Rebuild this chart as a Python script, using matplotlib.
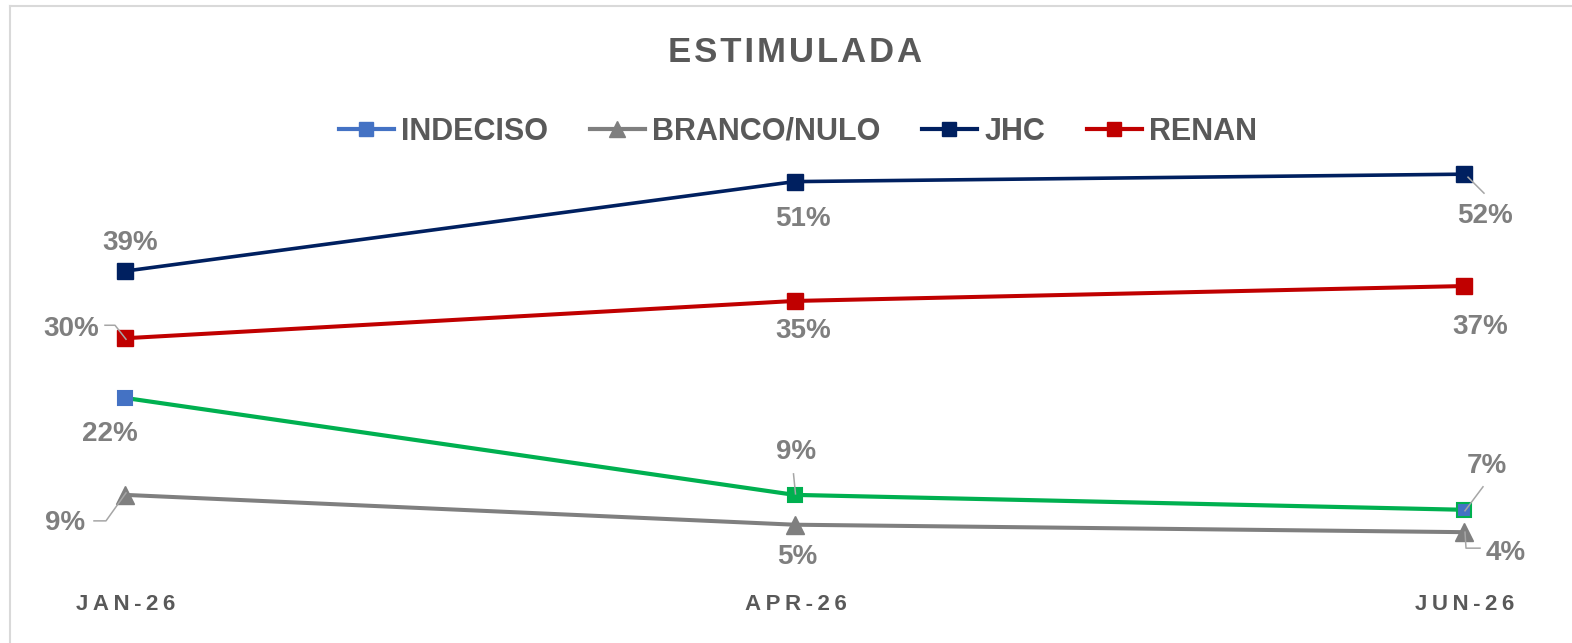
import matplotlib
matplotlib.use("Agg")
import matplotlib.pyplot as plt
from matplotlib.lines import Line2D
import matplotlib.transforms as mtransforms

# ---- data ----
months = ["JAN-26", "APR-26", "JUN-26"]
indeciso = [22, 9, 7]
branco_nulo = [9, 5, 4]
jhc = [39, 51, 52]
renan = [30, 35, 37]
series_names = ["INDECISO", "BRANCO/NULO", "JHC", "RENAN"]
title_text = "ESTIMULADA"

FONT = ["Liberation Sans", "DejaVu Sans"]
plt.rcParams["font.family"] = FONT

W, H = 1572, 643
fig = plt.figure(figsize=(W / 100, H / 100), dpi=100)
fig.patch.set_facecolor("white")

# axes: x 0..2 maps to px 125..1464 ; y 0..60 maps px 562..114.5
left, right = 125 / W, 1464 / W
bottom, top = (H - 562) / H, (H - 114.5) / H
ax = fig.add_axes([left, bottom, right - left, top - bottom])
ax.set_xlim(0, 2)
ax.set_ylim(0, 60)
ax.axis("off")

x = list(range(len(months)))

C_IND = "#4472C4"
C_GREEN = "#00B050"
C_BR = "#7F7F7F"
C_JHC = "#002060"
C_REN = "#C00000"

ax.plot(x, jhc, color=C_JHC, lw=2.6, marker="s", ms=11, mfc=C_JHC, mec=C_JHC,
        clip_on=False, zorder=4)
ax.plot(x, renan, color=C_REN, lw=2.9, marker="s", ms=11, mfc=C_REN, mec=C_REN,
        clip_on=False, zorder=4)
ax.plot(x, indeciso, color=C_GREEN, lw=3.0, clip_on=False, zorder=3)
ind_face = [C_IND, C_GREEN, C_IND]
ind_edge = [C_IND, C_GREEN, C_GREEN]
for xi, yi, fc, ec in zip(x, indeciso, ind_face, ind_edge):
    ax.plot([xi], [yi], marker="s", ms=10, mfc=fc, mec=ec, mew=1.5,
            clip_on=False, zorder=5)
ax.plot(x, branco_nulo, color=C_BR, lw=2.9, marker="^", ms=13, mfc=C_BR, mec=C_BR,
        clip_on=False, zorder=4)

# ---- data labels ----
LBL = "#7F7F7F"
LEAD = "#A6A6A6"


def label(xi, yi, text, dx, dy, ha="center", va="center"):
    ax.annotate(text, xy=(xi, yi), xytext=(dx, dy), textcoords="offset pixels",
                ha=ha, va=va, fontsize=20, fontweight="bold", color=LBL,
                annotation_clip=False, zorder=6)


def leader(xi, yi, pts):
    tr = mtransforms.ScaledTranslation(xi, yi, ax.transData)
    xs = [p[0] for p in pts]
    ys = [p[1] for p in pts]
    ln = Line2D(xs, ys, transform=mtransforms.IdentityTransform() + tr,
                color=LEAD, lw=1.1, zorder=3.5)
    fig.add_artist(ln)


# JHC
label(x[0], jhc[0], "39%", 5, 28)
label(x[1], jhc[1], "51%", 8, -37)
label(x[2], jhc[2], "52%", 21, -42)
leader(x[2], jhc[2], [(4, -3), (20, -19)])
# RENAN
label(x[0], renan[0], "30%", -54, 9)
leader(x[0], renan[0], [(-20, 13), (-10, 13), (1, -1)])
label(x[1], renan[1], "35%", 9, -30)
label(x[2], renan[2], "37%", 16, -41)
# INDECISO
label(x[0], indeciso[0], "22%", -15, -36)
label(x[1], indeciso[1], "9%", 2, 43)
leader(x[1], indeciso[1], [(1, 1), (-1, 21)])
label(x[2], indeciso[2], "7%", 23, 44)
leader(x[2], indeciso[2], [(1, -1), (19, 23)])
# BRANCO/NULO
label(x[0], branco_nulo[0], "9%", -60, -28)
leader(x[0], branco_nulo[0], [(-31, -26), (-19, -26), (1, 2)])
label(x[1], branco_nulo[1], "5%", 3, -32)
label(x[2], branco_nulo[2], "4%", 42, -21)
leader(x[2], branco_nulo[2], [(1, 0), (2, -16), (16, -16)])

# ---- x tick labels (letter-spaced) ----
for xi, m in zip(x, months):
    ax.annotate("\u2009".join(m), xy=(xi, 0), xytext=(1, -42),
                textcoords="offset pixels", ha="center", va="center",
                fontsize=16, fontweight="bold", color="#595959",
                annotation_clip=False)

# ---- title ----
fig.text(795 / W, 1 - 53 / H, "\u200a".join(title_text), ha="center", va="center",
         fontsize=25, fontweight="bold", color="#595959")

# ---- legend ----
handles = [
    Line2D([], [], color=C_IND, lw=3, marker="s", ms=10, mfc=C_IND, mec=C_IND),
    Line2D([], [], color=C_BR, lw=3, marker="^", ms=11, mfc=C_BR, mec=C_BR),
    Line2D([], [], color=C_JHC, lw=3, marker="s", ms=10, mfc=C_JHC, mec=C_JHC),
    Line2D([], [], color=C_REN, lw=3, marker="s", ms=10, mfc=C_REN, mec=C_REN),
]
leg = fig.legend(handles, series_names, loc="center", bbox_to_anchor=(798 / W, 1 - 132 / H),
                 ncol=4, frameon=False, handlelength=1.8, handletextpad=0.25,
                 columnspacing=1.35, prop={"size": 22, "weight": "bold"})
for t in leg.get_texts():
    t.set_color("#595959")

# ---- outer chart border (top and left visible) ----
fig.add_artist(Line2D([9.5 / W, 9.5 / W], [0, 1 - 5.5 / H], transform=fig.transFigure,
                      color="#D9D9D9", lw=1.5))
fig.add_artist(Line2D([9.5 / W, 1], [1 - 5.5 / H, 1 - 5.5 / H], transform=fig.transFigure,
                      color="#D9D9D9", lw=1.5))

fig.savefig("out.png", dpi=100, facecolor="white")
